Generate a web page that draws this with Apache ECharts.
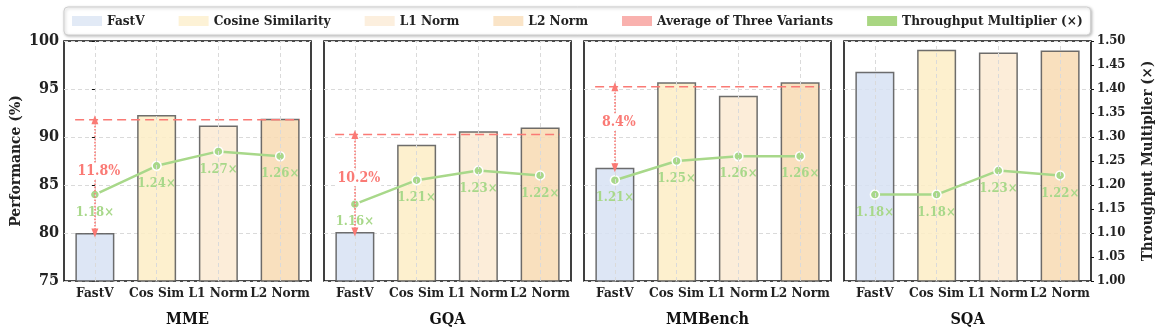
<!DOCTYPE html>
<html>
<head>
<meta charset="utf-8">
<script src="https://cdn.jsdelivr.net/npm/echarts@6/dist/echarts.min.js"></script>
<style>
  html, body { margin: 0; padding: 0; background: #fff; }
  #chart { width: 1163px; height: 333px; }
</style>
</head>
<body>
<div id="chart"></div>
<script>
// data
const benchmarks = ['MME', 'GQA', 'MMBench', 'SQA'];
const methods = ['FastV', 'Cos Sim', 'L1 Norm', 'L2 Norm'];
const methodNames = ['FastV', 'Cosine Similarity', 'L1 Norm', 'L2 Norm'];

const perfMME = [80.0, 92.3, 91.2, 91.9];
const perfGQA = [80.1, 89.2, 90.6, 91.0];
const perfMMBench = [86.8, 95.7, 94.3, 95.7];
const perfSQA = [96.8, 99.1, 98.8, 99.0];

const tputMME = [1.18, 1.24, 1.27, 1.26];
const tputGQA = [1.16, 1.21, 1.23, 1.22];
const tputMMBench = [1.21, 1.25, 1.26, 1.26];
const tputSQA = [1.18, 1.18, 1.23, 1.22];

const showAvg = [true, true, true, false];

const perfAll = [perfMME, perfGQA, perfMMBench, perfSQA];
const tputAll = [tputMME, tputGQA, tputMMBench, tputSQA];

const FONT = "'DejaVu Serif Condensed', 'DejaVu Serif', serif";
const barColors = ['#d7e2f3', '#fdedc6', '#fceAd2', '#f8dbb3'];
const legendBar = ['#dde6f5', '#fdf0cf', '#fcecd8', '#f9dfbd'];
const green = '#a8d88a';
const red = '#fa7a75';

const grids = [], xAxes = [], yAxes = [], series = [];

benchmarks.forEach((b, i) => {
  grids.push({
    left: 64 + i * 260, top: 41, width: 247, height: 240,
    show: true, borderColor: '#111', borderWidth: 1.6, backgroundColor: 'transparent'
  });
  xAxes.push({
    type: 'category', gridIndex: i, data: methods,
    name: b, nameLocation: 'middle', nameGap: 31,
    nameTextStyle: {fontFamily: FONT, fontWeight: 'bold', fontSize: 16, color: '#111'},
    axisLine: {show: false}, axisTick: {show: false},
    axisLabel: {fontFamily: FONT, fontWeight: 'bold', fontSize: 13.5, color: '#222', margin: 5, interval: 0},
    splitLine: {show: false}
  });
  yAxes.push({
    type: 'value', gridIndex: i, min: 75, max: 100, interval: 5, position: 'left',
    name: i === 0 ? 'Performance (%)' : '', nameLocation: 'middle', nameGap: 40,
    nameTextStyle: {fontFamily: FONT, fontWeight: 'bold', fontSize: 15.5, color: '#222'},
    axisLine: {show: false},
    axisTick: {show: i === 0, length: 3, lineStyle: {color: '#111'}},
    axisLabel: {show: i === 0, fontFamily: FONT, fontWeight: 'bold', fontSize: 16, color: '#222', margin: 5},
    splitLine: {show: true, lineStyle: {color: '#dadada', type: [4, 3], width: 1}}
  });
  yAxes.push({
    type: 'value', gridIndex: i, min: 1.0, max: 1.5, interval: 0.05, position: 'right',
    name: i === 3 ? 'Throughput Multiplier (×)' : '', nameLocation: 'middle', nameGap: 50,
    nameTextStyle: {fontFamily: FONT, fontWeight: 'bold', fontSize: 15, color: '#222'},
    axisLine: {show: false},
    axisTick: {show: i === 3, length: 3, lineStyle: {color: '#111'}},
    axisLabel: {show: i === 3, fontFamily: FONT, fontWeight: 'bold', fontSize: 13, color: '#222', margin: 6,
      formatter: v => v.toFixed(2)},
    splitLine: {show: false}
  });

  // vertical grid lines at category centres
  series.push({
    type: 'line', xAxisIndex: i, yAxisIndex: 2 * i, data: [], z: 1, silent: true,
    markLine: {
      silent: true, symbol: 'none', label: {show: false},
      lineStyle: {color: '#dadada', type: [4, 3], width: 1},
      data: methods.map((m, k) => ({xAxis: k}))
    }
  });

  const perf = perfAll[i];
  methods.forEach((m, j) => {
    series.push({
      name: methodNames[j], type: 'bar', xAxisIndex: i, yAxisIndex: 2 * i,
      barWidth: 39, barGap: '-100%',
      itemStyle: {color: barColors[j], borderColor: '#555', borderWidth: 1.5, opacity: 0.85},
      emphasis: {disabled: true},
      data: perf.map((v, k) => (k === j ? v : '-'))
    });
  });

  if (showAvg[i]) {
    const avg = (perf[1] + perf[2] + perf[3]) / 3;
    const diff = avg - perf[0];
    series.push({
      name: 'Average of Three Variants', type: 'line', xAxisIndex: 4 + i, yAxisIndex: 2 * i,
      data: [[-0.32, avg], [3.32, avg]], symbol: 'none', z: 3,
      lineStyle: {color: red, width: 1.6, type: [9, 5]},
      markLine: {
        silent: true, symbol: ['triangle', 'triangle'], symbolSize: [7, 9],
        lineStyle: {color: red, width: 1.6, type: 'dotted', opacity: 1},
        label: {show: false},
        data: [[{coord: [0, perf[0]]}, {coord: [0, avg]}]]
      },
      markPoint: {
        silent: true, symbol: 'rect', symbolSize: 0,
        label: {show: true, formatter: diff.toFixed(1) + '%', color: red,
          fontFamily: FONT, fontWeight: 'bold', fontSize: 14,
          backgroundColor: '#fff', padding: [1, 1], offset: [4, -5]},
        data: [{coord: [0, (perf[0] + avg) / 2]}]
      }
    });
  }

  series.push({
    name: 'Throughput Multiplier (×)', type: 'line', xAxisIndex: i, yAxisIndex: 2 * i + 1,
    data: tputAll[i], z: 4,
    lineStyle: {color: green, width: 2.5},
    symbol: 'circle', symbolSize: 9,
    itemStyle: {color: green, borderColor: '#fff', borderWidth: 1.5},
    label: {show: true, position: 'bottom', distance: 6, color: green,
      fontFamily: FONT, fontWeight: 'bold', fontSize: 13,
      formatter: p => p.value.toFixed(2) + '×'}
  });
});

benchmarks.forEach((b, i) => {
  xAxes.push({type: 'value', gridIndex: i, min: -0.5, max: 3.5, show: false});
});

const legendData = methodNames.map((n, j) => ({name: n, itemStyle: {color: legendBar[j]}}))
  .concat([
    {name: 'Average of Three Variants', itemStyle: {color: '#f9b1ae'}},
    {name: 'Throughput Multiplier (×)', itemStyle: {color: '#a9d682'}}
  ]);

const chart = echarts.init(document.getElementById('chart'));
chart.setOption({
  animation: false,
  backgroundColor: '#fff',
  legend: {
    data: legendData, left: 64, top: 7, icon: 'rect',
    itemWidth: 30, itemHeight: 10, itemGap: 34,
    padding: [7, 8], backgroundColor: '#fff',
    borderColor: '#cfcfcf', borderWidth: 1, borderRadius: 4,
    shadowBlur: 3, shadowColor: 'rgba(0,0,0,0.25)', shadowOffsetX: 1, shadowOffsetY: 1,
    itemStyle: {borderWidth: 0}, lineStyle: {width: 0},
    textStyle: {fontFamily: FONT, fontWeight: 'bold', fontSize: 13.5, color: '#222'},
    selectedMode: false
  },
  grid: grids,
  xAxis: xAxes,
  yAxis: yAxes,
  series: series
});
</script>
</body>
</html>
